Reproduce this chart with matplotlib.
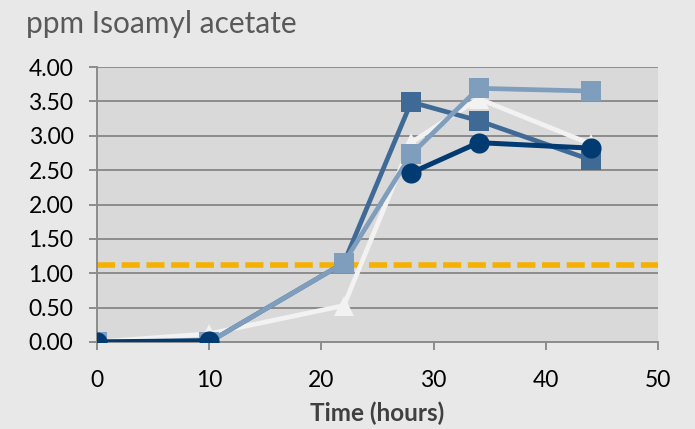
import matplotlib.pyplot as plt

plt.rcParams['font.family'] = ['Lato', 'DejaVu Sans']

# sampling times (hours)
hours = [0, 10, 22, 28, 34, 44]

# ppm isoamyl acetate per fermentation (nan = not sampled, gap in line)
navy_vals = [0.0, 0.02, float("nan"), 2.46, 2.90, 2.82]
mid_vals = [0.0, 0.0, 1.15, 3.49, 3.22, 2.65]
light_vals = [0.0, 0.0, 1.15, 2.73, 3.69, 3.65]
white_vals = [0.0, 0.12, 0.53, 2.90, 3.54, 2.88]

threshold = 1.12

fig = plt.figure(figsize=(6.95, 4.29), dpi=100)
fig.patch.set_facecolor("#E8E8E8")
ax = fig.add_axes([0.1396, 0.2028, 0.8072, 0.641])
ax.set_facecolor("#D9D9D9")

ax.plot([0, 50], [threshold, threshold], color="#F5B000", lw=4,
        dashes=(3.25, 1.2), zorder=2)

ax.plot(hours, white_vals, color="#F2F2F2", lw=3.4, marker="^", ms=14,
        mew=0, zorder=3)
ax.plot(hours, mid_vals, color="#3F6A95", lw=3.4, marker="s", ms=14.5,
        mew=0, zorder=4)
ax.plot(hours, light_vals, color="#7F9EBD", lw=3.4, marker="s", ms=14.5,
        mew=0, zorder=5)
ax.plot(hours, navy_vals, color="#023A72", lw=3.6, marker="o", ms=14.5,
        mew=0, zorder=6)

ax.set_xlim(0, 50)
ax.set_ylim(0, 4)
ax.set_xticks(range(0, 51, 10))
ax.set_yticks([i * 0.5 for i in range(9)])
ax.set_yticklabels([f"{i * 0.5:.2f}" for i in range(9)])
ax.grid(axis="y", color="#8C8C8C", lw=1.4, zorder=1)
ax.set_axisbelow(True)

for s in ["top", "right"]:
    ax.spines[s].set_visible(False)
for s in ["left", "bottom"]:
    ax.spines[s].set_color("#8C8C8C")
    ax.spines[s].set_linewidth(1.4)
ax.tick_params(axis="both", colors="#8C8C8C", labelcolor="black",
               labelsize=16.5, length=6, width=1.4)
ax.tick_params(axis="x", pad=14)
ax.tick_params(axis="y", pad=11)

ax.set_xlabel("Time (hours)", fontsize=17.5, fontweight="bold",
              color="#404040", labelpad=8)
fig.text(0.038, 0.944, "ppm Isoamyl acetate", fontsize=21.5,
         color="#595959", ha="left", va="center")

fig.savefig("out.png", dpi=100, facecolor=fig.get_facecolor())
